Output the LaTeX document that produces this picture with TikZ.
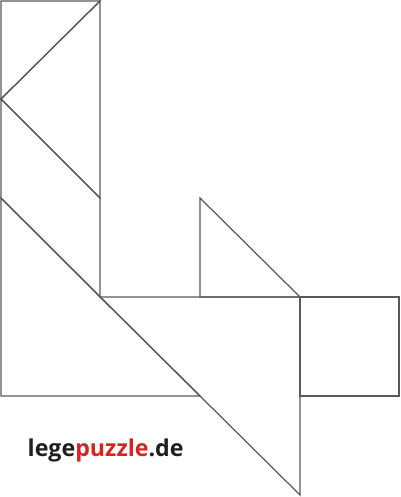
\documentclass[tikz,border=0pt]{standalone}
\usepackage{fontspec}
\setmainfont{Open Sans}
\usetikzlibrary{calc}
\definecolor{legered}{RGB}{215,35,35}
\definecolor{legeblack}{RGB}{30,30,30}
\tikzset{
    piece/.style={draw=black!65, line width=0.35pt, line join=miter},
    logo/.style={font=\bfseries\fontsize{6.6}{7}\selectfont, inner sep=0pt, text=legeblack}
}

\begin{document}
\begin{tikzpicture}
    \useasboundingbox (0,0) rectangle (4,4.97);
    % corner points of the pieces
    \coordinate (tl) at (0.01,4.96);
    \coordinate (tr) at (1.00,4.96);
    \coordinate (ml) at (0.01,3.98);
    \coordinate (mr) at (1.00,2.99);
    \coordinate (pl) at (0.01,2.99);
    \coordinate (pr) at (1.00,2.00);
    \coordinate (bl) at (0.01,1.01);
    \coordinate (bm) at (2.00,1.01);
    \coordinate (st) at (2.00,2.99);
    \coordinate (sb) at (2.00,2.00);
    \coordinate (sq) at (3.00,2.00);
    \coordinate (tip) at (3.00,0.02);
    \coordinate (sqr) at (3.99,1.01);
    % small triangle top left
    \draw[piece] (tl) -- (tr) -- (ml) -- cycle;
    % medium triangle
    \draw[piece] (tr) -- (mr) -- (ml) -- cycle;
    % parallelogram
    \draw[piece] (ml) -- (mr) -- (pr) -- (pl) -- cycle;
    % large triangles
    \draw[piece] (pl) -- (bm) -- (bl) -- cycle;
    \draw[piece] (pr) -- (sq) -- (tip) -- cycle;
    % small triangle right
    \draw[piece] (st) -- (sq) -- (sb) -- cycle;
    % square
    \draw[piece] (sq) rectangle (sqr);
    \node[logo, anchor=base west] (logo) at (0.27,0.40)
        {lege\textcolor{legered}{puzzle}.de};
\end{tikzpicture}
\end{document}
